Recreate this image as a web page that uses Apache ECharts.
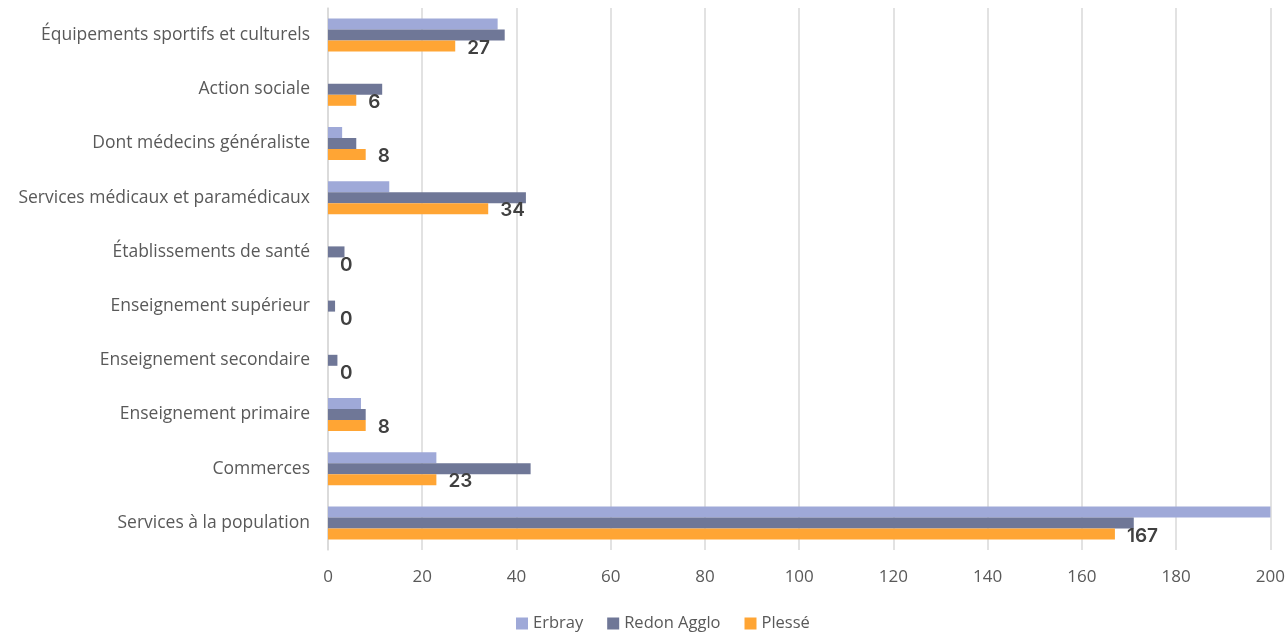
<!DOCTYPE html>
<html>
<head>
<meta charset="utf-8">
<script src="https://cdn.jsdelivr.net/npm/echarts@6/dist/echarts.min.js"></script>
<style>
    html, body {margin: 0; padding: 0; background: #fff;}
    #main {width: 1288px; height: 633px;}
</style>
</head>
<body>
<div id="main"></div>
<script>
// categories, bottom to top
var categories = ['Services à la population', 'Commerces', 'Enseignement primaire',
    'Enseignement secondaire', 'Enseignement supérieur', 'Établissements de santé',
    'Services médicaux et paramédicaux', 'Dont médecins généraliste', 'Action sociale',
    'Équipements sportifs et culturels'];
var erbray = [200, 23, 7, 0, 0, 0, 13, 3, 0, 36];
var redon = [171, 43, 8, 2, 1.5, 3.5, 42, 6, 11.5, 37.5];
var plesse = [167, 23, 8, 0, 0, 0, 34, 8, 6, 27];
var xTicks = [0, 20, 40, 60, 80, 100, 120, 140, 160, 180, 200];

var textFont = '"Open Sans", sans-serif';

function showChart() {
    var myChart = echarts.init(document.getElementById('main'));
    var option = {
        animation: false,
        legend: {
            top: 610,
            left: 511,
            data: ['Erbray', 'Redon Agglo', 'Plessé'],
            icon: 'rect',
            itemWidth: 12,
            itemHeight: 12,
            itemGap: 24,
            textStyle: {color: '#595959', fontSize: 16.5, fontFamily: textFont}
        },
        grid: {
            left: 328,
            right: 17,
            top: 8,
            bottom: 83
        },
        xAxis: {
            type: 'value',
            min: xTicks[0],
            max: xTicks[xTicks.length - 1],
            interval: 20,
            axisLine: {show: false},
            axisTick: {show: false},
            splitLine: {lineStyle: {color: '#d9d9d9', width: 1.5}},
            axisLabel: {color: '#595959', fontSize: 17, fontFamily: textFont, margin: 19}
        },
        yAxis: {
            type: 'category',
            data: categories,
            axisLine: {lineStyle: {color: '#d9d9d9', width: 1.5}},
            axisTick: {show: false},
            axisLabel: {color: '#595959', fontSize: 17.5, fontFamily: textFont, margin: 18}
        },
        series: [
            {
                name: 'Erbray',
                type: 'bar',
                data: erbray,
                barWidth: 11,
                barGap: '0%',
                itemStyle: {color: '#9FA9D8'}
            },
            {
                name: 'Redon Agglo',
                type: 'bar',
                data: redon,
                barWidth: 11,
                barGap: '0%',
                itemStyle: {color: '#6F7797'}
            },
            {
                name: 'Plessé',
                type: 'bar',
                data: plesse,
                barWidth: 11,
                barGap: '0%',
                itemStyle: {color: '#FFA534'},
                label: {
                    show: true,
                    position: 'right',
                    distance: 12,
                    offset: [0, 2],
                    color: '#404040',
                    fontSize: 19,
                    fontWeight: 600,
                    fontFamily: 'Inter, sans-serif'
                }
            }
        ]
    };
    myChart.setOption(option);
}
showChart();
</script>
</body>
</html>
